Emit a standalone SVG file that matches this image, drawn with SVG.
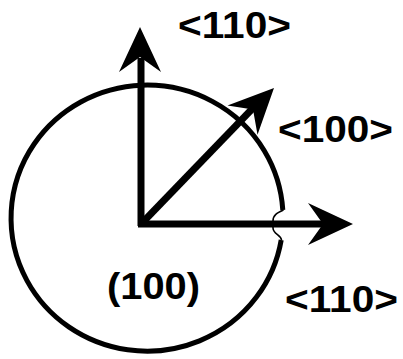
<svg xmlns="http://www.w3.org/2000/svg" width="403" height="359" viewBox="0 0 403 359">
<style>
.lbl{font-family:"Liberation Sans",Arial,sans-serif;font-weight:bold;font-size:37px;fill:#000}
.shaft{stroke:#000;stroke-width:7;fill:none}
.head{fill:#000}
</style>
<defs>
<path id="ah" d="M0,0 L-45,-21 L-30,0 L-45,21 Z"/>
</defs>
<rect width="403" height="359" fill="#fff"/>
<g id="circle">
<path d="M282.8 210 A136 133 0 1 0 281.2 240" fill="none" stroke="#000" stroke-width="5"/>
<path d="M283.5 210 C277 213 273 215 273 221 L273 228 C273 234 281 235 281.5 240" fill="none" stroke="#000" stroke-width="1.6"/>
</g>
<g id="connectors">
<line class="shaft" x1="141" y1="226" x2="141" y2="58"/>
<line class="shaft" x1="138" y1="224" x2="325" y2="224"/>
<line class="shaft" x1="143" y1="222" x2="254" y2="107"/>
<use href="#ah" class="head" transform="translate(140,27) rotate(-90)"/>
<use href="#ah" class="head" transform="translate(353,224)"/>
<use href="#ah" class="head" transform="translate(274,88) rotate(-45.6)"/>
</g>
<g id="label-110-top"><text class="lbl" x="178" y="38" textLength="113" lengthAdjust="spacingAndGlyphs">&lt;110&gt;</text></g>
<g id="label-100"><text class="lbl" x="278" y="142" textLength="115" lengthAdjust="spacingAndGlyphs">&lt;100&gt;</text></g>
<g id="label-110-right"><text class="lbl" x="285" y="312" textLength="113" lengthAdjust="spacingAndGlyphs">&lt;110&gt;</text></g>
<g id="label-plane"><text class="lbl" x="107" y="299" textLength="93" lengthAdjust="spacingAndGlyphs">(100)</text></g>
</svg>
